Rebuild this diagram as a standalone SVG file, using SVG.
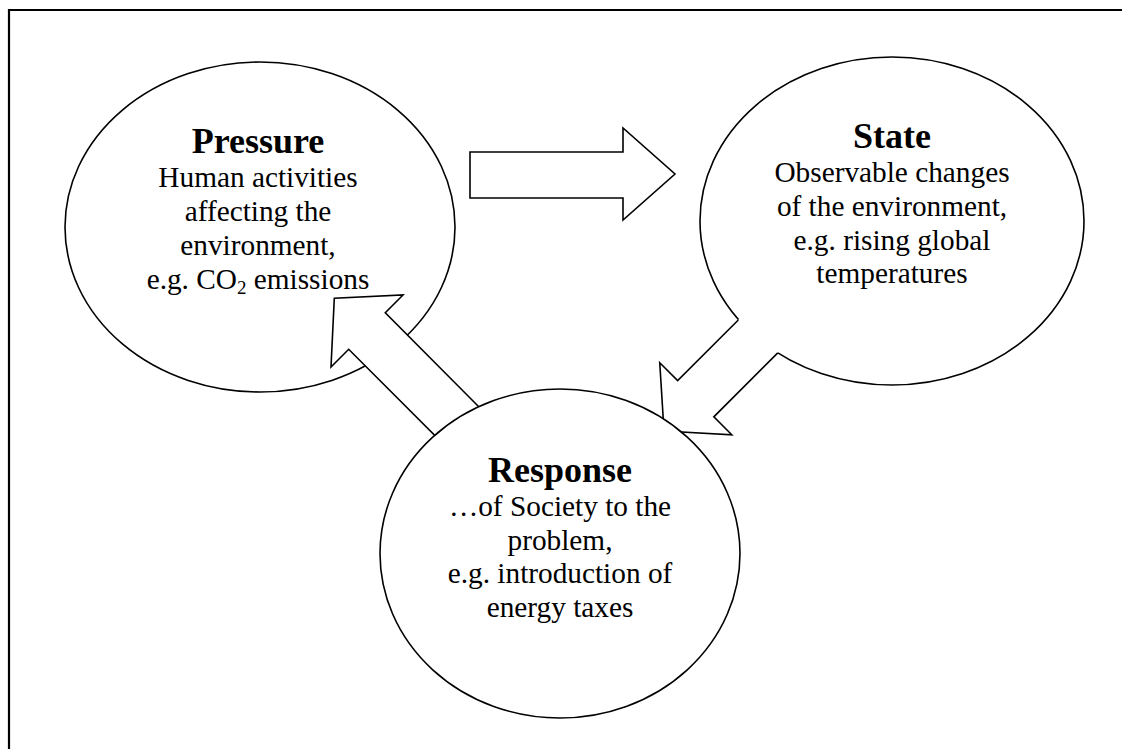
<svg xmlns="http://www.w3.org/2000/svg" width="1122" height="749" viewBox="0 0 1122 749">
  <style>
    .frame { fill: none; stroke: #000; stroke-width: 2.2; }
    .bubble { fill: #fff; stroke: #000; stroke-width: 1.6; }
    .arrow { fill: #fff; stroke: #000; stroke-width: 1.6; stroke-linejoin: miter; }
    .arrow-fill { fill: #fff; stroke: none; }
    .arrow-edge { fill: none; stroke: #000; stroke-width: 1.6; stroke-linejoin: miter; }
    text { font-family: "Liberation Serif", "Times New Roman", serif; fill: #000; text-anchor: middle; }
    .title { font-size: 36px; font-weight: bold; }
    .body { font-size: 29.3px; }
    .sub { font-size: 19px; }
  </style>

  <!-- page border (runs off the right and bottom edges) -->
  <path class="frame" d="M9,760 V10 H1130"/>

  <!-- Pressure -->
  <g id="pressure">
    <ellipse class="bubble" cx="260" cy="227" rx="195" ry="165"/>
    <text class="title" x="258" y="153">Pressure</text>
    <text class="body" x="258" y="187">Human activities</text>
    <text class="body" x="258" y="221">affecting the</text>
    <text class="body" x="258" y="255">environment,</text>
    <text class="body" x="258" y="289">e.g. CO<tspan class="sub" dy="5">2</tspan><tspan dy="-5"> emissions</tspan></text>
  </g>

  <!-- State -->
  <g id="state">
    <ellipse class="bubble" cx="892" cy="221" rx="192" ry="164"/>
    <text class="title" x="892" y="148">State</text>
    <text class="body" x="892" y="182">Observable changes</text>
    <text class="body" x="892" y="216">of the environment,</text>
    <text class="body" x="892" y="250">e.g. rising global</text>
    <text class="body" x="892" y="283">temperatures</text>
  </g>

  <!-- block arrows between the stages -->
  <g id="connectors">
    <!-- Pressure to State -->
    <path class="arrow" d="M470,152 H623 V128 L675,174 L623,220 V198 H470 Z"/>
    <!-- State to Response: tail tucked into the State bubble, edges drawn open -->
    <polygon class="arrow-fill" points="779,279 677.65,380.65 659.75,362.75 664,431 731.75,434.75 713.85,416.85 815.35,315.35"/>
    <polyline class="arrow-edge" points="738.3,320 677.65,380.65 659.75,362.75 664,431 731.75,434.75 713.85,416.85 777.8,352.9"/>
    <!-- Response to Pressure -->
    <polygon class="arrow" points="486,414 385.3,312.7 403,295 334.3,298.3 331,367 348.7,349.3 449.7,450.3"/>
  </g>

  <!-- Response -->
  <g id="response">
    <ellipse class="bubble" cx="560" cy="553.5" rx="180" ry="164.5"/>
    <text class="title" x="560" y="482">Response</text>
    <text class="body" x="560" y="516">…of Society to the</text>
    <text class="body" x="560" y="550">problem,</text>
    <text class="body" x="560" y="583">e.g. introduction of</text>
    <text class="body" x="560" y="617">energy taxes</text>
  </g>
</svg>
